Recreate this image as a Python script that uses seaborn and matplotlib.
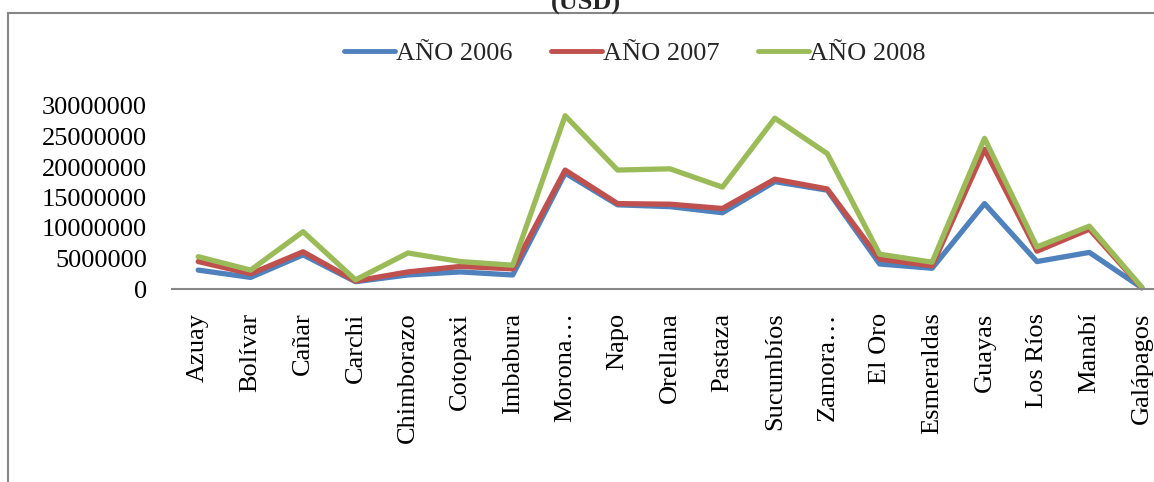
import numpy as np
import pandas as pd
import matplotlib
matplotlib.use("Agg")
import matplotlib.pyplot as plt
import seaborn as sns
from matplotlib.patches import Rectangle
from matplotlib.lines import Line2D

# Provinces along the horizontal axis
provincias = ["Azuay", "Bolívar", "Cañar", "Carchi", "Chimborazo", "Cotopaxi",
              "Imbabura", "Morona…", "Napo", "Orellana", "Pastaza", "Sucumbíos",
              "Zamora…", "El Oro", "Esmeraldas", "Guayas", "Los Ríos", "Manabí",
              "Galápagos"]

# Amounts per year (USD)
anio_2006 = [3100000, 1900000, 5600000, 1200000, 2300000, 2800000, 2300000,
             19000000, 13800000, 13500000, 12500000, 17600000, 16200000,
             4100000, 3400000, 14000000, 4500000, 6000000, 200000]
anio_2007 = [4500000, 2500000, 6100000, 1300000, 2800000, 3700000, 3300000,
             19500000, 14000000, 13900000, 13200000, 18000000, 16400000,
             4900000, 3800000, 22900000, 6200000, 9800000, 200000]
anio_2008 = [5300000, 3100000, 9400000, 1500000, 5900000, 4500000, 3900000,
             28400000, 19500000, 19700000, 16700000, 28000000, 22200000,
             5700000, 4400000, 24700000, 6900000, 10300000, 300000]

series = ["AÑO 2006", "AÑO 2007", "AÑO 2008"]
yticks = [0, 5000000, 10000000, 15000000, 20000000, 25000000, 30000000]

rows = []
for nombre, valores in zip(series, [anio_2006, anio_2007, anio_2008]):
    for i, v in enumerate(valores):
        rows.append({"pos": i, "valor": v, "serie": nombre})
df = pd.DataFrame(rows)

sns.set_theme(style="white")
plt.rcParams["font.family"] = ["Liberation Serif", "DejaVu Serif"]

colores = {"AÑO 2006": "#4F81BD", "AÑO 2007": "#C0504D", "AÑO 2008": "#9BBB59"}

fig = plt.figure(figsize=(11.54, 4.82), dpi=100)
W, H = 1154, 482
ax = fig.add_axes([172 / W, 1 - 289 / H, (1168 - 172) / W, (289 - 106) / H])

sns.lineplot(data=df, x="pos", y="valor", hue="serie", palette=colores,
             linewidth=3.8, ax=ax, legend=False, sort=False)
for ln in ax.lines:
    ln.set_solid_joinstyle("round")
    ln.set_solid_capstyle("round")
    ln.set_clip_on(False)

ax.set_xlim(-0.5, len(provincias) - 0.5)
ax.set_ylim(0, 30000000)
ax.set_yticks(yticks)
ax.set_yticklabels([str(t) for t in yticks], fontsize=19)
ax.set_xticks(range(len(provincias)))
ax.set_xticklabels(provincias, rotation=90, fontsize=19)
ax.tick_params(axis="y", length=0, pad=18, colors="black")
ax.tick_params(axis="x", length=0, pad=17, colors="black")
ax.set_xlabel("")
ax.set_ylabel("")
for s in ["left", "right", "top"]:
    ax.spines[s].set_visible(False)
ax.spines["bottom"].set_color("#868686")
ax.spines["bottom"].set_linewidth(1.5)
ax.grid(False)

# Legend above the plot
handles = [Line2D([], [], color=colores[s], lw=3.5, solid_capstyle="round") for s in series]
fig.legend(handles, series, loc="center", bbox_to_anchor=(635 / W, 1 - 53 / H),
           ncol=3, frameon=False, fontsize=19, handlelength=1.95,
           handletextpad=0.02, columnspacing=1.45)

# Chart frame
fig.patches.append(Rectangle((8 / W, -0.1), 1.2, 1 - 13 / H + 0.1,
                             transform=fig.transFigure, fill=False,
                             edgecolor="#868686", linewidth=1.5))

fig.text(586 / W, 1 - 10 / H, "(USD)", ha="center", va="baseline",
         fontsize=19, fontweight="bold")

fig.savefig("out.png", dpi=100)
